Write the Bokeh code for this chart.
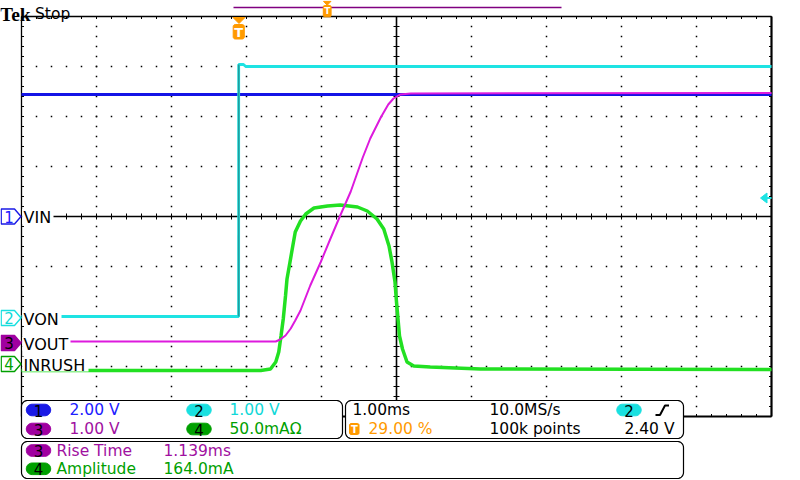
import numpy as np
from bokeh.plotting import figure
from bokeh.models import Range1d
from bokeh.core.properties import value
from bokeh.embed import file_html
from bokeh.resources import INLINE

# ---------------- scope settings ----------------
TIME_PER_DIV_MS = 1.00
TRIG_POS_PCT = 29.00
TRIG_LEVEL_V = 2.40
TRIG_SOURCE = "2"
SAMPLE_RATE_TXT = "10.0MS/s"
RECORD_TXT = "100k points"
TIMEBASE_TXT = "1.00ms"
TRIG_POS_TXT = "29.00 %"
TRIG_LEVEL_TXT = "2.40 V"
N_DIV_X = 10
N_DIV_Y = 8

CH_IDS = ["1", "2", "3", "4"]
CH_NAMES = ["VIN", "VON", "VOUT", "INRUSH"]
CH_SCALE = [2.00, 1.00, 1.00, 50.0]
CH_SCALE_TXT = ["2.00 V", "1.00 V", "1.00 V", "50.0mA\u03a9"]
CH_OFFSET_DIV = [0.00, -2.03, -2.53, -2.95]

# ---------------- traces (time in ms, relative to trigger) ----------------
vin_t = [-2.9, 7.1]
vin_v = [4.88, 4.88]

von_t = [-2.9, -0.005, -0.004, 0.06, 0.09, 7.1]
von_v = [0.03, 0.03, 5.07, 5.07, 5.03, 5.03]

vout_t = [-2.9, 0.49, 0.55, 0.62, 0.69, 0.75, 0.82, 0.95, 1.09, 1.22, 1.35, 1.49,
          1.65, 1.75, 1.89, 1.99, 2.06, 2.15, 2.29, 7.1]
vout_v = [0.03, 0.03, 0.07, 0.15, 0.29, 0.45, 0.65, 1.15, 1.62, 2.09, 2.55, 3.03,
          3.71, 4.09, 4.51, 4.77, 4.89, 4.97, 4.99, 5.00]

inrush_t = [-2.9, 0.29, 0.42, 0.49, 0.53, 0.56, 0.59, 0.62, 0.64, 0.68, 0.71, 0.75,
            0.82, 0.89, 1.00, 1.18, 1.35, 1.58, 1.71, 1.84, 1.93, 2.00, 2.04, 2.08,
            2.10, 2.12, 2.14, 2.18, 2.24, 2.33, 2.55, 3.22, 7.1]
inrush_ma = [-6.5, -6.5, -5, 2, 12, 28, 45, 68, 85, 102, 115, 132,
             143, 150, 156, 158, 159, 157, 153, 145, 135, 118, 102, 82,
             62, 45, 28, 15, 2, -2, -3, -5, -5.5]

MEAS_CH = ["3", "4"]
MEAS_NAME = ["Rise Time", "Amplitude"]
MEAS_VAL = ["1.139ms", "164.0mA"]

# ---------------- styling ----------------
CH_TRACE = ["#1414e6", "#1ee3e3", "#dd1add", "#22e022"]
CH_TEXT = ["#2020ff", "#10d8d8", "#a010a0", "#00a000"]
CH_BADGE = ["#1a1ae6", "#19e0e0", "#a000a0", "#00a000"]
ORANGE = "#ff9a00"
FONT = "DejaVu Sans"

# layout helpers (page pixel -> data units of the default ranges)
PXX, PXY = 75.0, 50.0
LEFT_PX, TOP_PX = 21.0, 16.0
t0 = -TRIG_POS_PCT / 100.0 * N_DIV_X * TIME_PER_DIV_MS
t1 = t0 + N_DIV_X * TIME_PER_DIV_MS


def X(px):
    return t0 + (px - LEFT_PX) / PXX * TIME_PER_DIV_MS


def Y(py):
    return N_DIV_Y / 2 - (py - TOP_PX) / PXY


DX = TIME_PER_DIV_MS / PXX   # one pixel in x data units
DY = 1.0 / PXY               # one pixel in y (div) units

W, H = 800, 480
p = figure(width=W, height=H,
           x_range=Range1d(X(0), X(W)), y_range=Range1d(Y(H), Y(0)),
           x_axis_type=None, y_axis_type=None, toolbar_location=None,
           output_backend="svg", min_border=0)
p.outline_line_color = None
p.background_fill_color = "white"
p.border_fill_color = "white"

p.extra_y_ranges = {
    "ch%d" % (i + 1): Range1d((Y(H) - CH_OFFSET_DIV[i]) * CH_SCALE[i],
                              (Y(0) - CH_OFFSET_DIV[i]) * CH_SCALE[i])
    for i in range(4)
}


def txt(px, py, s, color="black", size=15, align="left", baseline="middle",
        font=FONT, style="normal"):
    p.text(x=[X(px)], y=[Y(py)], text=[s], text_color=color,
           text_font=value(font), text_font_size="%gpx" % size,
           text_align=align, text_baseline=baseline, text_font_style=style)


def rbox(x0, y0, x1, y1, r=5.0, n=8):
    xs, ys = [], []
    for cx, cy, a0, a1 in [(x1 - r, y0 + r, -90, 0), (x1 - r, y1 - r, 0, 90),
                           (x0 + r, y1 - r, 90, 180), (x0 + r, y0 + r, 180, 270)]:
        for a in np.linspace(np.radians(a0), np.radians(a1), n):
            xs.append(X(cx + r * np.cos(a)))
            ys.append(Y(cy + r * np.sin(a)))
    return xs, ys


# ---------------- graticule ----------------
gx = t0 + np.arange(N_DIV_X + 1) * TIME_PER_DIV_MS
gy = -N_DIV_Y / 2 + np.arange(N_DIV_Y + 1)
mx = t0 + np.arange(N_DIV_X * 5 + 1) * TIME_PER_DIV_MS / 5
my = -N_DIV_Y / 2 + np.arange(N_DIV_Y * 5 + 1) / 5.0
xc = gx[N_DIV_X // 2]

dx_, dy_ = [], []
for yv in gy[1:-1]:
    if abs(yv) < 1e-9:
        continue
    dx_ += list(mx[1:-1])
    dy_ += [yv] * (len(mx) - 2)
for xv in gx[1:-1]:
    if abs(xv - xc) < 1e-9:
        continue
    dx_ += [xv] * (len(my) - 2)
    dy_ += list(my[1:-1])
p.scatter(dx_, dy_, marker="square", size=1.5, fill_color="black", line_color=None)

# center crosshair
p.segment(x0=[t0, xc], y0=[0, gy[0]], x1=[t1, xc], y1=[0, gy[-1]],
          line_color="black", line_width=1.6)
tk = 3.0
p.segment(x0=list(mx), y0=[-tk * DY] * len(mx), x1=list(mx), y1=[tk * DY] * len(mx),
          line_color="black", line_width=1)
p.segment(x0=[xc - tk * DX] * len(my), y0=list(my), x1=[xc + tk * DX] * len(my), y1=list(my),
          line_color="black", line_width=1)
# border ticks
bt = 2.5
p.segment(x0=list(mx) * 2, x1=list(mx) * 2,
          y0=[gy[-1]] * len(mx) + [gy[0]] * len(mx),
          y1=[gy[-1] - bt * DY] * len(mx) + [gy[0] + bt * DY] * len(mx),
          line_color="black", line_width=1)
p.segment(y0=list(my) * 2, y1=list(my) * 2,
          x0=[t0] * len(my) + [t1] * len(my),
          x1=[t0 + bt * DX] * len(my) + [t1 - bt * DX] * len(my),
          line_color="black", line_width=1)
# border
p.segment(x0=[t0, t0], y0=[gy[-1], gy[-1]], x1=[t0, t1], y1=[gy[0], gy[-1]],
          line_color="black", line_width=1.3)
p.segment(x0=[t0], y0=[gy[0]], x1=[t1], y1=[gy[0]], line_color="black", line_width=2.2)
p.segment(x0=[t1], y0=[gy[0]], x1=[t1], y1=[gy[-1]], line_color="black", line_width=2.2)

# ---------------- traces ----------------
p.line(inrush_t, inrush_ma, y_range_name="ch4", line_color=CH_TRACE[3], line_width=3.5)
p.line(vin_t, vin_v, y_range_name="ch1", line_color=CH_TRACE[0], line_width=2.8)
p.line(von_t, von_v, y_range_name="ch2", line_color=CH_TRACE[1], line_width=2.8)
p.segment(x0=[von_t[1]], y0=[von_v[1]], x1=[von_t[2]], y1=[von_v[2]],
          y_range_name="ch2", line_color="#229c9c", line_width=1.6)
p.line(vout_t, vout_v, y_range_name="ch3", line_color=CH_TRACE[2], line_width=2.0)

# ---------------- channel labels and ground markers ----------------
LABEL_END_PX = [53, 61, 70, 88]
p.quad(left=[X(21.7)] * 4, right=[X(e) for e in LABEL_END_PX],
       bottom=[o - 7.5 * DY for o in CH_OFFSET_DIV], top=[o + 7.5 * DY for o in CH_OFFSET_DIV],
       fill_color="white", line_color=None)
for i in range(4):
    yc = CH_OFFSET_DIV[i]
    xs = [X(0.7), X(14), X(20.5), X(14), X(0.7)]
    ys = [yc + 7.5 * DY, yc + 7.5 * DY, yc, yc - 7.5 * DY, yc - 7.5 * DY]
    filled = (i == 2)
    p.patch(xs, ys, fill_color=CH_BADGE[i] if filled else "white",
            line_color=CH_BADGE[i], line_width=1.4)
    p.text(x=[X(8.5)], y=[yc], text=[CH_IDS[i]],
           text_color="black" if filled else CH_TEXT[i],
           text_font=value(FONT), text_font_size="15px",
           text_align="center", text_baseline="middle")
    p.text(x=[X(23)], y=[yc - 1 * DY], text=[CH_NAMES[i]], text_color="black",
           text_font=value(FONT), text_font_size="16px",
           text_align="left", text_baseline="middle")

# trigger level arrow (right edge)
p.patch([X(760), X(766.5), X(766.5)],
        [TRIG_LEVEL_V, TRIG_LEVEL_V + 5 * DY * CH_SCALE[1], TRIG_LEVEL_V - 5 * DY * CH_SCALE[1]],
        y_range_name="ch2", fill_color=CH_TRACE[1], line_color=CH_TRACE[1])
p.segment(x0=[X(765)], y0=[TRIG_LEVEL_V], x1=[X(771)], y1=[TRIG_LEVEL_V],
          y_range_name="ch2", line_color=CH_TRACE[1], line_width=2)

# ---------------- top bar ----------------
txt(-0.5, 14, "Tek", size=19.5, baseline="alphabetic", font="Liberation Serif", style="bold")
txt(34.5, 13.2, "Stop", size=15.5, baseline="alphabetic")
p.segment(x0=[X(233)], y0=[Y(7)], x1=[X(561)], y1=[Y(7)], line_color="#800080", line_width=1.6)
p.patch([X(323), X(330.5), X(326.7)], [Y(0.8), Y(0.8), Y(4.8)], fill_color=ORANGE, line_color=ORANGE)
bx, by = rbox(322.8, 5, 330.6, 16.3, r=1.2)
p.patch(bx, by, fill_color=ORANGE, line_color=ORANGE)
txt(326.7, 10.8, "T", color="white", size=9, align="center", style="bold")

# trigger position marker
trig_px = LEFT_PX + TRIG_POS_PCT / 100 * N_DIV_X * PXX
p.patch([X(trig_px - 6), X(trig_px + 6), X(trig_px)], [Y(17), Y(17), Y(23)],
        fill_color=ORANGE, line_color=ORANGE)
bx, by = rbox(trig_px - 5.8, 24, trig_px + 5.3, 38.5, r=2)
p.patch(bx, by, fill_color=ORANGE, line_color=ORANGE)
txt(trig_px - 0.2, 31.5, "T", color="white", size=13, align="center", style="bold")

# ---------------- status panels ----------------
for (x0, y0, x1, y1) in [(21, 400, 342, 438), (345, 400, 683, 438), (21, 441, 683, 478)]:
    bx, by = rbox(x0, y0, x1, y1, r=6)
    p.patch(bx, by, fill_color="white", line_color="black", line_width=1.2)


def badge(cx, cy, lab, color):
    bx, by = rbox(cx - 12.2, cy - 5.8, cx + 12.2, cy + 5.8, r=5.8)
    p.patch(bx, by, fill_color=color, line_color=color)
    txt(cx, cy + 0.5, lab, color="black", size=15, align="center")


rows = [409.5, 428.5]
for i in range(4):
    cy = rows[0] if i in (0, 1) else rows[1]
    bxp = 38 if i in (0, 2) else 198.5
    tx = 69 if i in (0, 2) else 229
    badge(bxp, cy, CH_IDS[i], CH_BADGE[i])
    txt(tx, cy, CH_SCALE_TXT[i], color=CH_TEXT[i], size=15.5)

txt(352, rows[0], TIMEBASE_TXT, size=15.5)
txt(489, rows[0], SAMPLE_RATE_TXT, size=15.5)
badge(628.5, rows[0], TRIG_SOURCE, CH_BADGE[1])
p.line([X(655), X(659.5), X(664.5), X(668.5)], [Y(414.5), Y(414.5), Y(405), Y(405)],
       line_color="black", line_width=2)
bx, by = rbox(349, 423, 358.5, 434, r=1.5)
p.patch(bx, by, fill_color=ORANGE, line_color=ORANGE)
txt(353.8, 428.8, "T", color="white", size=10, align="center", style="bold")
txt(368, rows[1], TRIG_POS_TXT, color=ORANGE, size=15.5)
txt(489, rows[1], RECORD_TXT, size=15.5)
txt(674, rows[1], TRIG_LEVEL_TXT, align="right", size=15.5)

mrows = [450, 468.3]
for j in range(2):
    ci = CH_IDS.index(MEAS_CH[j])
    badge(38, mrows[j], MEAS_CH[j], CH_BADGE[ci])
    txt(56, mrows[j], MEAS_NAME[j], color=CH_TEXT[ci], size=15.5)
    txt(163, mrows[j], MEAS_VAL[j], color=CH_TEXT[ci], size=15.5)

open("out.html", "w").write(file_html(p, INLINE, title="Tek scope capture"))
